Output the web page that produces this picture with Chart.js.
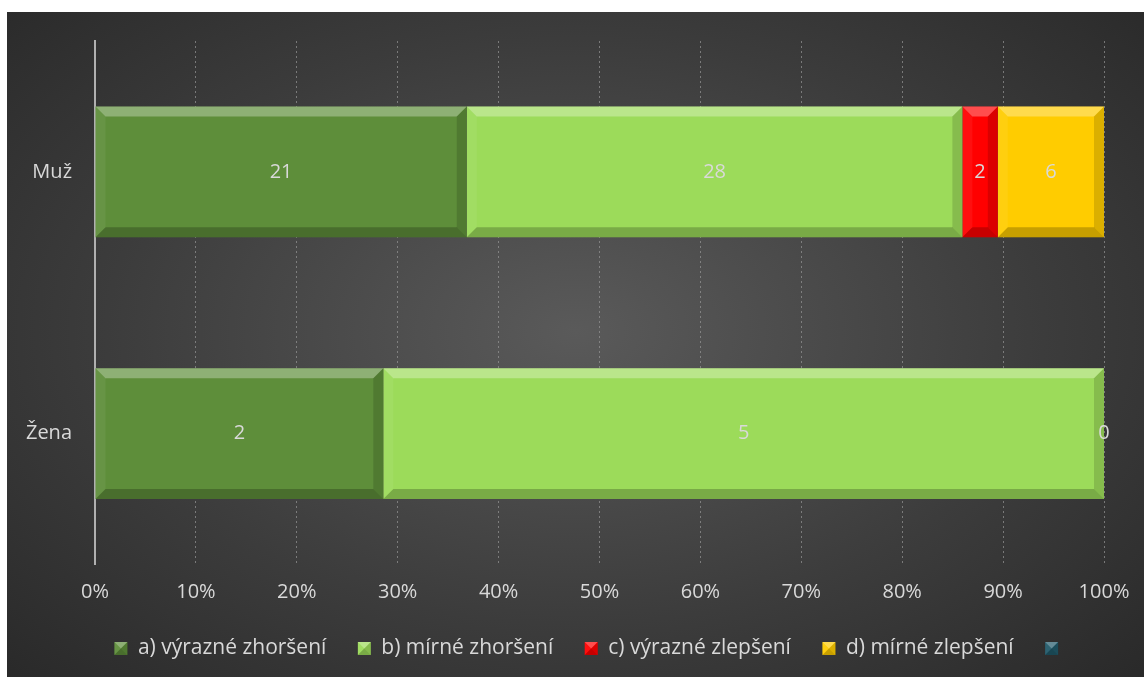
<!DOCTYPE html>
<html>
<head>
<meta charset="utf-8">
<script src="https://cdn.jsdelivr.net/npm/chart.js@4.4.1/dist/chart.umd.min.js"></script>
<style>
  html, body { margin: 0; padding: 0; background: #fff; }
  #wrap {
    position: absolute; left: 7px; top: 12px; width: 1137px; height: 665px;
    background: radial-gradient(ellipse 75% 80% at 50% 48%, #5a5a5a 0%, #3c3c3c 55%, #262626 100%);
  }
</style>
</head>
<body>
<div id="wrap"><canvas id="chart" width="1137" height="665"></canvas></div>
<script>
// kategorie a hodnoty (počty odpovědí)
const kategorie = ['Muž', 'Žena'];
const nazvySerii = ['a) výrazné zhoršení', 'b) mírné zhoršení', 'c) výrazné zlepšení', 'd) mírné zlepšení', ''];
const vyrazneZhorseni = [21, 2];
const mirneZhorseni = [28, 5];
const vyrazneZlepseni = [2, null];
const mirneZlepseni = [6, 0];
const pata = [null, null];
const barvy = ['#5e8e3a', '#9cdb5a', '#ff0000', '#ffcc00', '#215a6a'];
const osaX = [0, 10, 20, 30, 40, 50, 60, 70, 80, 90, 100];

const serie = [vyrazneZhorseni, mirneZhorseni, vyrazneZlepseni, mirneZlepseni, pata];
const soucty = kategorie.map((_, i) => serie.reduce((s, r) => s + (r[i] || 0), 0));

const FONT = "'Open Sans', 'Noto Sans', sans-serif";
const TXT = '#d9d9d9';

function bevel(ctx, x0, y0, x1, y1, b) {
  b = Math.min(b, (x1 - x0) / 2, (y1 - y0) / 2);
  if (b <= 0) return;
  const poly = (pts, fill) => {
    ctx.beginPath();
    ctx.moveTo(pts[0][0], pts[0][1]);
    for (const p of pts.slice(1)) ctx.lineTo(p[0], p[1]);
    ctx.closePath();
    ctx.fillStyle = fill;
    ctx.fill();
  };
  poly([[x0, y0], [x1, y0], [x1 - b, y0 + b], [x0 + b, y0 + b]], 'rgba(255,255,255,0.30)');
  poly([[x0, y0], [x0 + b, y0 + b], [x0 + b, y1 - b], [x0, y1]], 'rgba(255,255,255,0.06)');
  poly([[x0, y1], [x0 + b, y1 - b], [x1 - b, y1 - b], [x1, y1]], 'rgba(0,0,0,0.22)');
  poly([[x1, y0], [x1, y1], [x1 - b, y1 - b], [x1 - b, y0 + b]], 'rgba(0,0,0,0.14)');
}

const efekty = {
  id: 'efekty',
  afterLayout(chart) {
    // legenda je v originále posunutá doprava a o kousek níž
    const lg = chart.legend;
    lg.left += 72;
    lg.top += 4;
    lg.bottom += 4;
  },
  afterDatasetsDraw(chart) {
    const ctx = chart.ctx;
    ctx.save();
    chart.data.datasets.forEach((ds, di) => {
      chart.getDatasetMeta(di).data.forEach((el) => {
        const { x, base, y, height } = el.getProps(['x', 'base', 'y', 'height'], true);
        const l = Math.min(x, base), r = Math.max(x, base);
        if (r - l >= 1) bevel(ctx, l, y - height / 2, r, y + height / 2, 10);
      });
    });
    ctx.font = '20px ' + FONT;
    ctx.fillStyle = TXT;
    ctx.textAlign = 'center';
    ctx.textBaseline = 'middle';
    chart.data.datasets.forEach((ds, di) => {
      chart.getDatasetMeta(di).data.forEach((el, i) => {
        const v = ds.hodnoty[i];
        if (v === null || v === undefined) return;
        const { x, base, y } = el.getProps(['x', 'base', 'y'], true);
        ctx.fillText(String(v), (x + base) / 2, y);
      });
    });
    ctx.restore();
  },
  afterDraw(chart) {
    const ctx = chart.ctx;
    ctx.save();
    (chart.legend.legendHitBoxes || []).forEach((hb) => {
      const t = hb.top + (21 - 13) / 2;
      bevel(ctx, hb.left, t, hb.left + 13, t + 13, 6.5);
    });
    ctx.restore();
  }
};

const bezOkraju = (s) => { s.paddingLeft = s.paddingRight = s.paddingTop = s.paddingBottom = 0; };

new Chart(document.getElementById('chart'), {
  type: 'bar',
  data: {
    labels: kategorie,
    datasets: serie.map((r, si) => ({
      label: nazvySerii[si],
      data: r.map((v, i) => (v === null ? null : v / soucty[i] * 100)),
      hodnoty: r,
      backgroundColor: barvy[si],
      borderWidth: 0,
      categoryPercentage: 0.5,
      barPercentage: 1
    }))
  },
  options: {
    indexAxis: 'y',
    responsive: false,
    animation: false,
    layout: { padding: { top: 29, right: 40, left: 0, bottom: 12 } },
    plugins: {
      legend: {
        position: 'bottom',
        labels: { color: TXT, font: { family: FONT, size: 21 }, boxWidth: 13, boxHeight: 13, padding: 31.5 }
      },
      tooltip: { enabled: false }
    },
    scales: {
      x: {
        stacked: true, min: 0, max: 100,
        afterFit: (s) => { s.height = 38; bezOkraju(s); },
        afterBuildTicks: (s) => { s.ticks = osaX.map((v) => ({ value: v })); },
        ticks: { color: TXT, font: { family: FONT, size: 20 }, padding: 16, callback: (v) => v + '%' },
        grid: { color: 'rgba(150,150,150,0.7)', drawTicks: false },
        border: { display: false, dash: [2, 3] }
      },
      y: {
        stacked: true,
        afterFit: (s) => { s.width = 88; bezOkraju(s); },
        ticks: { color: TXT, font: { family: FONT, size: 20 }, padding: 23 },
        grid: { display: false, drawTicks: false },
        border: { display: true, color: '#b0b0b0', width: 2, dash: [4, 1] }
      }
    }
  },
  plugins: [efekty]
});
</script>
</body>
</html>
